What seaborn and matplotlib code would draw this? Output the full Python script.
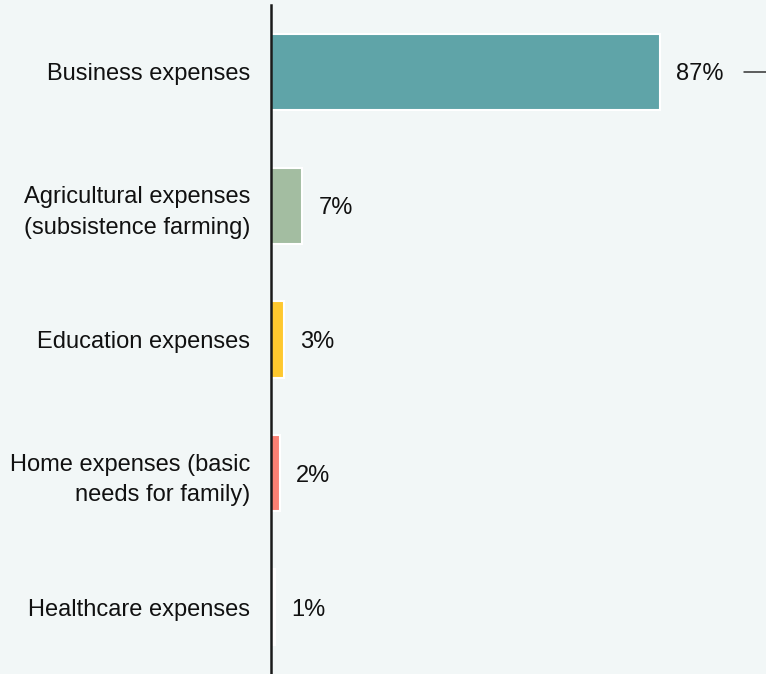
import matplotlib
matplotlib.use("Agg")
import matplotlib.pyplot as plt
import seaborn as sns
import pandas as pd

# Share of loan use by purpose
categories = [
    "Business expenses",
    "Agricultural expenses\n(subsistence farming)",
    "Education expenses",
    "Home expenses (basic\nneeds for family)",
    "Healthcare expenses",
]
shares = [87, 7, 3, 2, 1]
value_labels = ["87%", "7%", "3%", "2%", "1%"]
bar_colors = ["#5fa4a8", "#a3bda1", "#fec82e", "#fa8073", "#ffffff"]

bg = "#f2f7f7"
sns.set_theme(style="white")
plt.rcParams["font.family"] = ["Liberation Sans", "DejaVu Sans"]

df = pd.DataFrame({"category": categories, "share": shares})

fig = plt.figure(figsize=(7.66, 6.74), dpi=100, facecolor=bg)
ax = fig.add_axes([271 / 766, 0.0, 1 - 271 / 766, 1 - 5 / 674])
ax.set_facecolor(bg)

sns.barplot(
    data=df, x="share", y="category", hue="category",
    palette=bar_colors, orient="h", width=0.57, legend=False,
    edgecolor="white", linewidth=1.5, saturation=1, ax=ax,
)

ax.set_xlim(0, 110.7)
ax.set_ylim(4.5, -0.5)
ax.set_xlabel("")
ax.set_ylabel("")
ax.set_xticks([])
ax.tick_params(axis="y", length=0, pad=15, labelsize=17, labelcolor="#111111")
for lbl in ax.get_yticklabels():
    lbl.set_horizontalalignment("right")
    lbl.set_multialignment("right")
    lbl.set_linespacing(1.5)

for side in ["top", "right", "bottom"]:
    ax.spines[side].set_visible(False)
ax.spines["left"].set_color("#1a1a1a")
ax.spines["left"].set_linewidth(1.8)

for container, label in zip(ax.containers, value_labels):
    texts = ax.bar_label(container, labels=[label], padding=11.5,
                         fontsize=17, color="#111111")
    for t in texts:
        t.xyann = (11.5, -1.8)

# short leader dash after the top value
ax.plot([105.8, 111], [0, 0], color="#333333", lw=1.1, clip_on=False)

fig.savefig("out.png", dpi=100, facecolor=bg)
